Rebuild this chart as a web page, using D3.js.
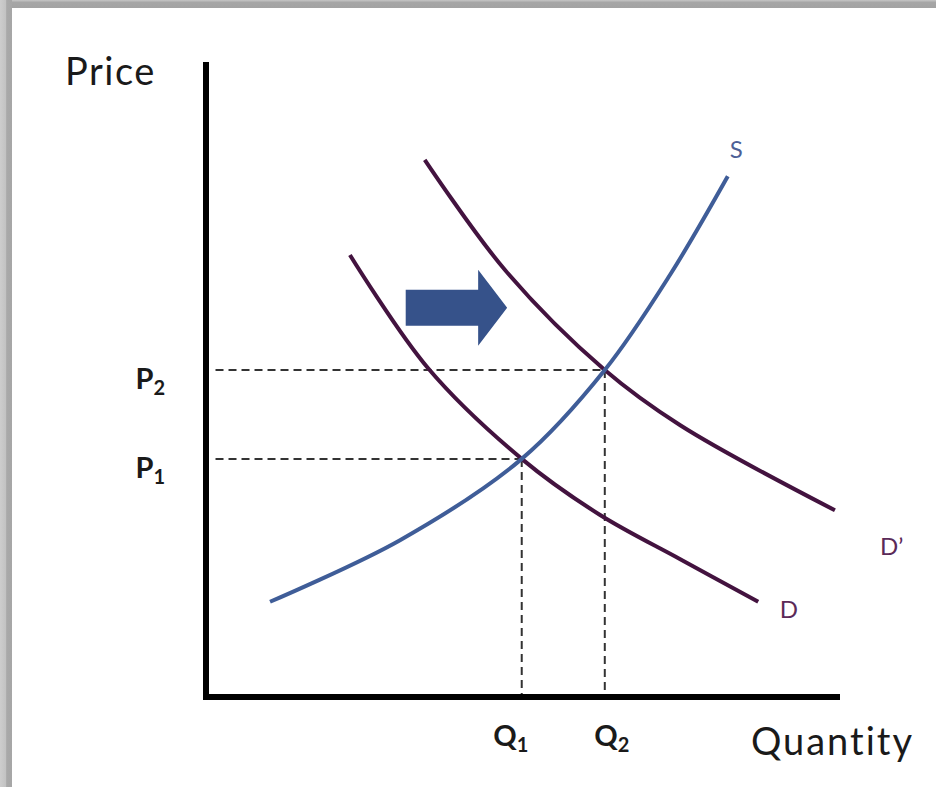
<!DOCTYPE html>
<html>
<head>
<meta charset="utf-8">
<script src="https://cdn.jsdelivr.net/npm/d3@7"></script>
<style>
  html, body { margin: 0; padding: 0; background: #fff; }
  svg { display: block; font-family: Lato, "Open Sans", sans-serif; }
</style>
</head>
<body>
<div id="chart"></div>
<script>
'use strict';

// curves, in chart units (0..10 on both axes)
var supply = [[1.01, 1.50], [3.06, 2.47], [4.98, 3.75], [6.29, 5.15], [7.32, 6.65], [8.23, 8.20]];
var demand = [[2.27, 6.96], [3.50, 5.18], [4.98, 3.75], [6.21, 2.87], [7.48, 2.17], [8.71, 1.50]];
var demandNew = [[3.45, 8.46], [4.72, 6.72], [6.29, 5.15], [7.48, 4.28], [9.92, 2.94]];

// equilibria: [quantity, price]
var equilibria = [[4.98, 3.75], [6.29, 5.15]];
var priceLabels = ['1', '2'];
var qtyLabels = ['1', '2'];

// shift arrow: tail x, tip x, y
var shiftArrow = [3.15, 4.75, 6.13];

var curveLabels = [
	{ text: 'S', x: 8.26, y: 8.49, size: 24, color: '#4d6096' },
	{ text: 'D\u2019', x: 10.63, y: 2.24, size: 24, color: '#5b2a58' },
	{ text: 'D', x: 9.05, y: 1.24, size: 24, color: '#5b2a58' }
];

var W = 936, H = 787;
var margin = { left: 206, right: 96, top: 62, bottom: 90 };

var svg = d3.select('#chart').append('svg')
	.attr('width', W)
	.attr('height', H);

// frame shadow, top and left
var defs = svg.append('defs');
var gTop = defs.append('linearGradient').attr('id', 'gTop')
	.attr('x1', 0).attr('y1', 0).attr('x2', 0).attr('y2', 1);
gTop.append('stop').attr('offset', '0%').attr('stop-color', '#c6c6c6');
gTop.append('stop').attr('offset', '30%').attr('stop-color', '#a6a6a6');
gTop.append('stop').attr('offset', '100%').attr('stop-color', '#a3a3a3');
var gLeft = defs.append('linearGradient').attr('id', 'gLeft')
	.attr('x1', 0).attr('y1', 0).attr('x2', 1).attr('y2', 0);
gLeft.append('stop').attr('offset', '0%').attr('stop-color', '#cdcdcd');
gLeft.append('stop').attr('offset', '50%').attr('stop-color', '#c2c2c2');
gLeft.append('stop').attr('offset', '55%').attr('stop-color', '#a9a9a9');
gLeft.append('stop').attr('offset', '100%').attr('stop-color', '#a6a6a6');

svg.append('rect').attr('x', 0).attr('y', 0).attr('width', W).attr('height', 8).attr('fill', 'url(#gTop)');
svg.append('rect').attr('x', 0).attr('y', 0).attr('width', 12).attr('height', H).attr('fill', 'url(#gLeft)');

var xScale = d3.scaleLinear()
	.domain([0, 10])
	.range([margin.left, W - margin.right]);
var yScale = d3.scaleLinear()
	.domain([0, 10])
	.range([H - margin.bottom, margin.top]);

var line = d3.line()
	.x(function(d) { return xScale(d[0]); })
	.y(function(d) { return yScale(d[1]); })
	.curve(d3.curveCatmullRom.alpha(0.5));

// dashed guides
var dashes = svg.append('g')
	.attr('stroke', '#333')
	.attr('stroke-width', 2)
	.attr('stroke-dasharray', '8,5')
	.attr('fill', 'none');
equilibria.forEach(function(e) {
	dashes.append('line')
		.attr('x1', xScale(0.15)).attr('x2', xScale(e[0]))
		.attr('y1', yScale(e[1])).attr('y2', yScale(e[1]));
	dashes.append('line')
		.attr('x1', xScale(e[0])).attr('x2', xScale(e[0]))
		.attr('y1', yScale(e[1])).attr('y2', yScale(0.03));
});

// curves
svg.append('path').datum(demand)
	.attr('d', line)
	.attr('fill', 'none').attr('stroke', '#43133f').attr('stroke-width', 4);
svg.append('path').datum(demandNew)
	.attr('d', line)
	.attr('fill', 'none').attr('stroke', '#43133f').attr('stroke-width', 4);
svg.append('path').datum(supply)
	.attr('d', line)
	.attr('fill', 'none').attr('stroke', '#3f5d98').attr('stroke-width', 4);

// shift arrow
var ax0 = xScale(shiftArrow[0]), ax1 = xScale(shiftArrow[1]), ay = yScale(shiftArrow[2]);
var headLen = 29, bodyH = 18, headH = 38;
svg.append('path')
	.attr('d', 'M' + ax0 + ',' + (ay - bodyH) +
		'L' + (ax1 - headLen) + ',' + (ay - bodyH) +
		'L' + (ax1 - headLen) + ',' + (ay - headH) +
		'L' + ax1 + ',' + ay +
		'L' + (ax1 - headLen) + ',' + (ay + headH) +
		'L' + (ax1 - headLen) + ',' + (ay + bodyH) +
		'L' + ax0 + ',' + (ay + bodyH) + 'Z')
	.attr('fill', '#36528a');

// axes
svg.append('path')
	.attr('d', 'M' + xScale(0) + ',' + yScale(10) + 'V' + yScale(0) + 'H' + xScale(10))
	.attr('fill', 'none')
	.attr('stroke', '#000')
	.attr('stroke-width', 6);

// axis titles
svg.append('text')
	.attr('x', 65).attr('y', 85)
	.attr('font-size', 38)
	.attr('letter-spacing', 1.5)
	.attr('fill', '#1a1a1a')
	.text('Price');
svg.append('text')
	.attr('x', 914).attr('y', 755)
	.attr('text-anchor', 'end')
	.attr('font-size', 38)
	.attr('letter-spacing', 2)
	.attr('fill', '#1a1a1a')
	.text('Quantity');

// P and Q labels
var qOffset = [-11, 7];
equilibria.forEach(function(e, i) {
	var t = svg.append('text')
		.attr('x', 165)
		.attr('y', yScale(e[1]) + 19)
		.attr('text-anchor', 'end')
		.attr('font-size', 29)
		.attr('font-weight', 'bold')
		.attr('fill', '#1a1a1a');
	t.append('tspan').text('P');
	t.append('tspan').attr('dy', 6).attr('font-size', 20).text(priceLabels[i]);

	var q = svg.append('text')
		.attr('x', xScale(e[0]) + qOffset[i])
		.attr('y', 746)
		.attr('text-anchor', 'middle')
		.attr('font-size', 29)
		.attr('font-weight', 'bold')
		.attr('fill', '#1a1a1a');
	q.append('tspan').text('Q');
	q.append('tspan').attr('dy', 6).attr('font-size', 20).text(qtyLabels[i]);
});

// curve labels
svg.selectAll('.clabel')
	.data(curveLabels)
	.enter().append('text')
	.attr('class', 'clabel')
	.attr('x', function(d) { return xScale(d.x); })
	.attr('y', function(d) { return yScale(d.y); })
	.attr('font-size', function(d) { return d.size; })
	.attr('fill', function(d) { return d.color; })
	.text(function(d) { return d.text; });
</script>
</body>
</html>
